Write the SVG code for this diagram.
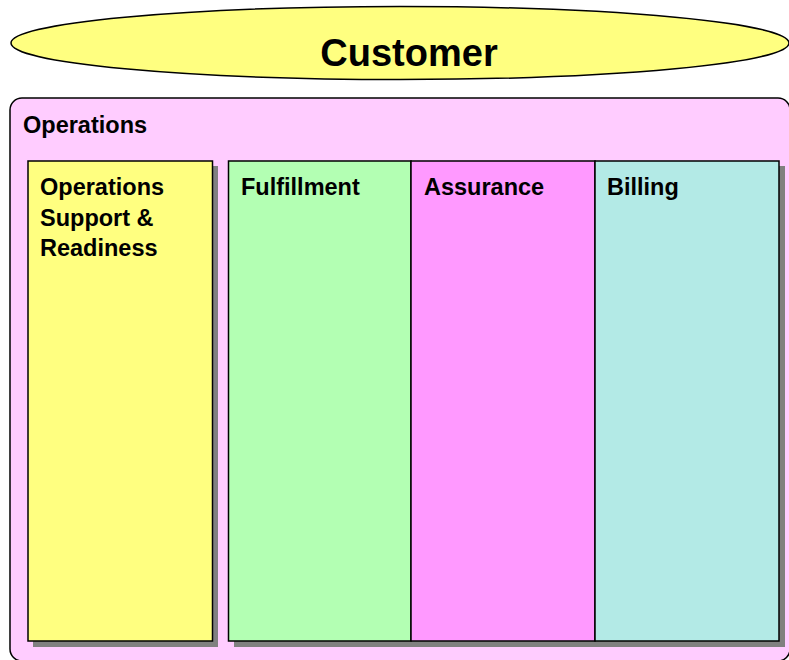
<svg xmlns="http://www.w3.org/2000/svg" width="789" height="660" viewBox="0 0 789 660">
<style>
text{font-family:"Liberation Sans",Arial,sans-serif;font-weight:bold;fill:#000}
.lbl{font-size:23.5px}
.box{stroke:#000;stroke-width:1.5}
.shadow{fill:#808080}
</style>
<rect width="789" height="660" fill="#fff"/>
<g id="customer">
<ellipse cx="400" cy="43" rx="389" ry="36.5" fill="#FFFF80" stroke="#000" stroke-width="1.5"/>
<text x="409" y="66" font-size="38" text-anchor="middle">Customer</text>
</g>
<g id="operations">
<rect x="10" y="98" width="780" height="563" rx="12" fill="#FFCCFF" stroke="#000" stroke-width="1.5"/>
<text class="lbl" x="23" y="133">Operations</text>
</g>
<g id="ops-support">
<rect class="shadow" x="33" y="166" width="185" height="481"/>
<rect class="box" x="28" y="161" width="184.5" height="480" fill="#FFFF80"/>
<text class="lbl" x="40" y="195">Operations</text>
<text class="lbl" x="40" y="226">Support &amp;</text>
<text class="lbl" x="40" y="256">Readiness</text>
</g>
<rect class="shadow" x="234" y="166" width="551" height="481"/>
<g id="fulfillment">
<rect class="box" x="228.5" y="161" width="182.5" height="480" fill="#B3FFB3"/>
<text class="lbl" x="241" y="195">Fulfillment</text>
</g>
<g id="assurance">
<rect class="box" x="411" y="161" width="184" height="480" fill="#FF99FF"/>
<text class="lbl" x="424" y="195">Assurance</text>
</g>
<g id="billing">
<rect class="box" x="595" y="161" width="184" height="480" fill="#B3EAE6"/>
<text class="lbl" x="607" y="195">Billing</text>
</g>
<g id="connectors"/>
</svg>
